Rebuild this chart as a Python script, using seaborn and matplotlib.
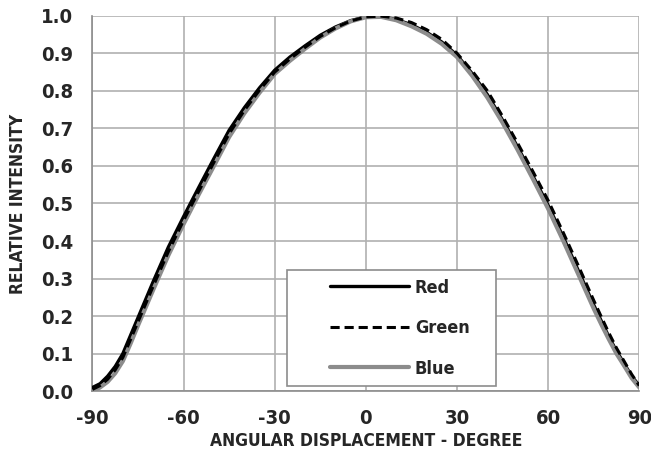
import numpy as np
import pandas as pd
import matplotlib
matplotlib.use("Agg")
import matplotlib.pyplot as plt
from matplotlib.patches import Rectangle
import seaborn as sns

# === Data ===
angles = [-90, -87.5, -85, -82.5, -80, -77.5, -75, -70, -65, -60, -55, -50, -45, -40, -35, -30,
          -25, -20, -15, -10, -5, 0, 5, 10, 15, 20, 25, 30, 35, 40, 45, 50, 55, 60, 65, 70, 75,
          77.5, 80, 82.5, 85, 87.5, 90]
red = [0.010, 0.020, 0.040, 0.066, 0.100, 0.148, 0.196, 0.292, 0.384, 0.465, 0.543, 0.620, 0.695,
       0.755, 0.808, 0.855, 0.890, 0.920, 0.948, 0.970, 0.987, 0.997, 0.998, 0.990, 0.976, 0.956,
       0.930, 0.895, 0.846, 0.790, 0.722, 0.650, 0.573, 0.495, 0.410, 0.320, 0.230, 0.187, 0.145,
       0.107, 0.074, 0.040, 0.015]
green = [0.005, 0.015, 0.032, 0.057, 0.090, 0.137, 0.185, 0.280, 0.372, 0.455, 0.533, 0.610, 0.686,
         0.748, 0.802, 0.850, 0.885, 0.916, 0.945, 0.968, 0.986, 0.997, 0.999, 0.994, 0.982, 0.963,
         0.937, 0.900, 0.853, 0.800, 0.732, 0.660, 0.585, 0.508, 0.422, 0.333, 0.242, 0.198, 0.155,
         0.115, 0.080, 0.045, 0.015]
blue = [0.000, 0.010, 0.025, 0.048, 0.080, 0.126, 0.175, 0.270, 0.362, 0.445, 0.524, 0.600, 0.677,
        0.740, 0.795, 0.845, 0.880, 0.912, 0.942, 0.966, 0.985, 0.996, 0.997, 0.988, 0.972, 0.952,
        0.925, 0.890, 0.840, 0.782, 0.715, 0.642, 0.565, 0.486, 0.400, 0.310, 0.220, 0.178, 0.138,
        0.100, 0.068, 0.035, 0.010]

x_ticks = [-90, -60, -30, 0, 30, 60, 90]
y_ticks = [0.0, 0.1, 0.2, 0.3, 0.4, 0.5, 0.6, 0.7, 0.8, 0.9, 1.0]

df = pd.DataFrame({"angle": angles, "Red": red, "Green": green, "Blue": blue})
long_df = df.melt(id_vars="angle", var_name="color", value_name="intensity")

sns.set_style("white")
FONT = ["DejaVu Sans", "Liberation Sans"]
plt.rcParams["font.family"] = FONT
plt.rcParams["font.weight"] = "bold"
plt.rcParams["font.stretch"] = "condensed"

fig, ax = plt.subplots(figsize=(6.51, 4.63), dpi=100)
fig.subplots_adjust(left=0.142, right=0.982, top=0.966, bottom=0.155)

# === Curves ===
styles = {"Red": dict(color="black", lw=2.4, ls="-", z=3),
          "Blue": dict(color="#8c8c8c", lw=3.0, ls="-", z=4),
          "Green": dict(color="black", lw=2.2, ls=(0, (3, 1.6)), z=5)}
for name in ["Red", "Blue", "Green"]:
    st = styles[name]
    sns.lineplot(data=long_df[long_df["color"] == name], x="angle", y="intensity",
                 ax=ax, color=st["color"], linewidth=st["lw"], linestyle=st["ls"],
                 zorder=st["z"], label=name, legend=False)

ax.set_xlim(-90, 90)
ax.set_ylim(0, 1.0)
ax.set_xticks(x_ticks)
ax.set_yticks(y_ticks)
ax.set_xticklabels([str(t) for t in x_ticks])
ax.set_yticklabels([f"{t:.1f}" for t in y_ticks])
ax.grid(True, color="#b0b0b0", linewidth=1.2)
ax.set_axisbelow(True)

for side in ["top", "right"]:
    ax.spines[side].set_visible(False)
for side in ["left", "bottom"]:
    ax.spines[side].set_color("#8c8c8c")
    ax.spines[side].set_linewidth(1.2)
ax.tick_params(axis="both", direction="out", length=5, width=1.2, color="#8c8c8c",
               labelsize=14.5)
ax.tick_params(axis="x", pad=8)
ax.tick_params(axis="y", pad=9)
for lab in ax.get_xticklabels() + ax.get_yticklabels():
    lab.set_fontweight("bold")
    lab.set_fontstretch("condensed")

ax.set_xlabel("ANGULAR DISPLACEMENT - DEGREE", fontsize=12.5, fontweight="bold",
              fontstretch="condensed", labelpad=3)
ax.set_ylabel("RELATIVE INTENSITY", fontsize=12.5, fontweight="bold",
              fontstretch="condensed", labelpad=10)

# === Legend box ===
box = Rectangle((0.3565, 0.0133), 0.381, 0.309, transform=ax.transAxes,
                facecolor="white", edgecolor="#8c8c8c", linewidth=1.2, zorder=6)
ax.add_patch(box)
handles, labels = ax.get_legend_handles_labels()
order = [labels.index(n) for n in ["Red", "Green", "Blue"]]
leg = ax.legend([handles[i] for i in order], [labels[i] for i in order],
                loc="center left", bbox_to_anchor=(0.418, 0.168), frameon=False,
                handlelength=4.4, handletextpad=0.3, labelspacing=1.25, borderpad=0,
                prop={"family": FONT, "weight": "bold", "size": 13, "stretch": "condensed"})
leg.set_zorder(7)

fig.savefig("out.png", dpi=100)
